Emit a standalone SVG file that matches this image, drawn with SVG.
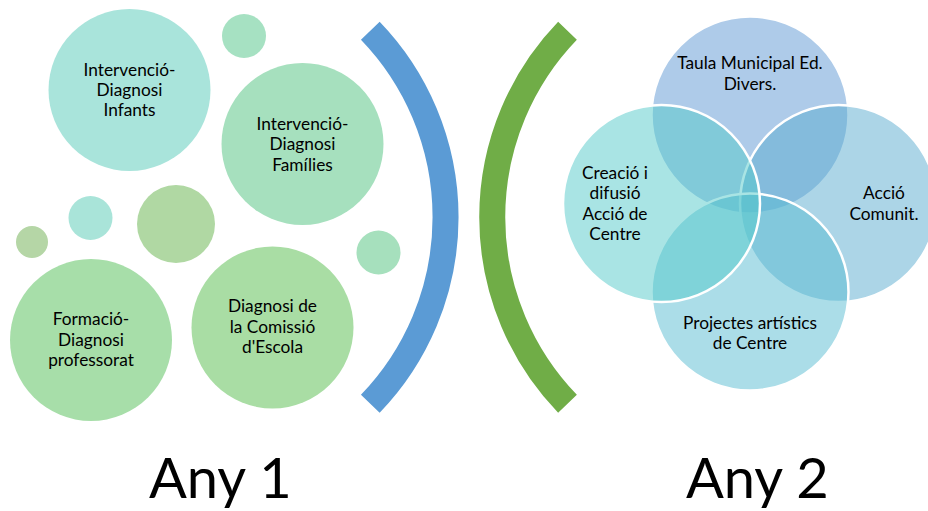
<svg xmlns="http://www.w3.org/2000/svg" width="928" height="511" viewBox="0 0 928 511">
<style>
  .t { font-family: Lato, "Liberation Sans", sans-serif; font-size: 17.3px; fill: #000; text-anchor: middle; }
  .big { font-family: Lato, "Liberation Sans", sans-serif; font-size: 56px; fill: #000; }
  .arc { fill: none; stroke-width: 26; stroke-linecap: butt; }
  .v { stroke: #fff; stroke-width: 2.5; fill-opacity: 0.5; }
</style>
<rect width="928" height="511" fill="#fff"/>
<g id="deco-circles">
  <circle cx="244" cy="36" r="22" fill="#a6e1c2"/>
  <circle cx="90.5" cy="218" r="22" fill="#a9e4d9"/>
  <circle cx="176" cy="224" r="39" fill="#b0d8a3"/>
  <circle cx="32" cy="242" r="16" fill="#b5d6a6"/>
  <circle cx="378.5" cy="252.5" r="22" fill="#a6e0bd"/>
</g>
<g id="node-infants">
  <circle cx="129.5" cy="90" r="81" fill="#a9e4db"/>
  <text class="t" x="129.5" y="76">Intervenció-</text>
  <text class="t" x="129.5" y="96">Diagnosi</text>
  <text class="t" x="129.5" y="116">Infants</text>
</g>
<g id="node-families">
  <circle cx="302.5" cy="144" r="81" fill="#a6e0be"/>
  <text class="t" x="302.5" y="129.5">Intervenció-</text>
  <text class="t" x="302.5" y="150">Diagnosi</text>
  <text class="t" x="302.5" y="170.5">Famílies</text>
</g>
<g id="node-professorat">
  <circle cx="91" cy="340" r="81" fill="#a7dea9"/>
  <text class="t" x="91" y="325">Formació-</text>
  <text class="t" x="91" y="345.5">Diagnosi</text>
  <text class="t" x="91" y="366">professorat</text>
</g>
<g id="node-comissio">
  <circle cx="272.5" cy="327.5" r="81" fill="#a9dda4"/>
  <text class="t" x="272.5" y="311.5">Diagnosi de</text>
  <text class="t" x="272.5" y="332.5">la Comissió</text>
  <text class="t" x="272.5" y="352.5">d'Escola</text>
</g>
<g id="connectors">
  <path class="arc" stroke="#5b9bd5" d="M 370.3 30.8 A 268.6 268.6 0 0 1 370.3 403.7"/>
  <path class="arc" stroke="#70ad47" d="M 567.5 30.8 A 268.6 268.6 0 0 0 567.5 403.7"/>
</g>
<g id="node-taula">
  <circle class="v" cx="750" cy="115" r="98.5" fill="#5d97d3"/>
</g>
<g id="node-comunit">
  <circle class="v" cx="838.5" cy="203.5" r="98.5" fill="#59abcf"/>
</g>
<g id="node-projectes">
  <circle class="v" cx="750" cy="292" r="98.5" fill="#57bbd1"/>
</g>
<g id="node-creacio">
  <circle class="v" cx="661.5" cy="203.5" r="98.5" fill="#53c9c9"/>
</g>
<g id="venn-labels">
  <text class="t" x="750" y="69">Taula Municipal Ed.</text>
  <text class="t" x="750" y="90">Divers.</text>
  <text class="t" x="615" y="178.5">Creació i</text>
  <text class="t" x="615" y="199">difusió</text>
  <text class="t" x="615" y="219.5">Acció de</text>
  <text class="t" x="615" y="240">Centre</text>
  <text class="t" x="884" y="199">Acció</text>
  <text class="t" x="884" y="219.5">Comunit.</text>
  <text class="t" x="750" y="328.5">Projectes artístics</text>
  <text class="t" x="750" y="349">de Centre</text>
</g>
<g id="labels">
  <text class="big" x="149" y="498">Any 1</text>
  <text class="big" x="686" y="498">Any 2</text>
</g>
</svg>
